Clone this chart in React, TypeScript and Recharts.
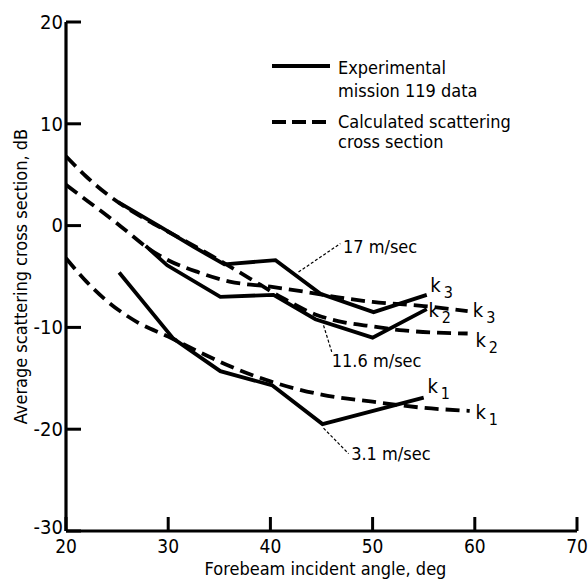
import React from 'react';
import { LineChart, Line, XAxis, YAxis, ReferenceLine, ReferenceDot, Legend } from 'recharts';

const FONT = "'Liberation Sans Narrow', 'DejaVu Sans Condensed', 'Roboto Condensed', sans-serif";

// axis ticks
const xTicks = [20, 30, 40, 50, 60, 70];
const yTicks = [-30, -20, -10, 0, 10, 20];

// experimental mission 119 data (solid)
const exp17X = [25.1, 29.2, 32.5, 35.5, 40.5, 44.9, 50.1, 55.3];
const exp17Y = [2.3, -0.1, -2.1, -3.8, -3.4, -6.7, -8.5, -6.8];
const exp116X = [27.8, 29.9, 35.1, 40.3, 44.4, 50.0, 55.3];
const exp116Y = [-2.0, -3.9, -7.0, -6.8, -9.2, -11.0, -8.2];
const exp31X = [25.2, 30.5, 35.1, 40.2, 45.1, 55.0];
const exp31Y = [-4.6, -11.1, -14.3, -15.7, -19.5, -16.9];

// calculated scattering cross section (dashed)
const calcK3X = [20, 22, 24, 26, 28, 30, 33, 36, 40, 44, 47, 50, 55, 59.3];
const calcK3Y = [4.0, 2.5, 1.0, -0.6, -2.2, -3.4, -4.6, -5.5, -6.0, -6.6, -7.1, -7.5, -7.9, -8.4];
const calcK2X = [20, 22, 24, 26, 28, 30, 32, 35, 38, 41, 44.6, 47.2, 50, 53, 59.3];
const calcK2Y = [6.8, 4.8, 3.1, 1.7, 0.5, -0.6, -1.7, -3.4, -5.2, -7.0, -8.8, -9.5, -9.9, -10.3, -10.6];
const calcK1X = [20, 22, 24, 27, 30, 33, 36, 40, 45, 50, 55, 59.5];
const calcK1Y = [-3.2, -5.5, -7.4, -9.5, -10.9, -12.4, -13.8, -15.3, -16.6, -17.3, -17.9, -18.2];

// wind speed notes: text anchor and leader ends (data coords)
const speedNotes = [
  { text: '17 m/sec', x: 47.1, y: -2.1, from: [42.75, -4.56], to: [46.84, -1.77] },
  { text: '11.6 m/sec', x: 46.0, y: -13.3, from: [45.2, -9.8], to: [46.0, -12.4] },
  { text: '3.1 m/sec', x: 47.9, y: -22.4, from: [45.2, -19.9], to: [47.65, -22.4] },
];

// curve end labels k with subscript
const kLabels = [
  { sub: '3', x: 55.65, y: -6.55 },
  { sub: '2', x: 55.46, y: -9.0 },
  { sub: '3', x: 59.8, y: -9.0 },
  { sub: '2', x: 60.06, y: -11.95 },
  { sub: '1', x: 55.36, y: -16.4 },
  { sub: '1', x: 60.06, y: -19.0 },
];

const legendLabels = [['Experimental', 'mission 119 data'], ['Calculated scattering', 'cross section']];
const xTitle = 'Forebeam incident angle, deg';
const yTitle = 'Average scattering cross section, dB';

const zip = (xs: number[], ys: number[]) => xs.map((x, i) => ({ x, y: ys[i] }));

const solid = [zip(exp17X, exp17Y), zip(exp116X, exp116Y), zip(exp31X, exp31Y)];
const dashed = [zip(calcK3X, calcK3Y), zip(calcK2X, calcK2Y), zip(calcK1X, calcK1Y)];

const YTick = ({ x, y, payload }: any) => (
  <g>
    <line x1={x} x2={x + 15} y1={y} y2={y} stroke="#000" strokeWidth={3} />
    <text
      x={x - 3}
      y={payload.value === -30 ? y - 4 : y}
      dy="0.34em"
      textAnchor="end"
      fontSize={20}
      fontFamily={FONT}
      fill="#000"
    >
      {payload.value}
    </text>
  </g>
);

const XTick = ({ x, y, payload }: any) => (
  <g>
    <line x1={x} x2={x} y1={y} y2={y - 14} stroke="#000" strokeWidth={3} />
    <text x={x} y={y + 22} textAnchor="middle" fontSize={19} fontFamily={FONT} fill="#000">
      {payload.value}
    </text>
  </g>
);

const LegendBox = () => (
  <svg width={260} height={110}>
    <line x1={4} x2={62} y1={16} y2={16} stroke="#000" strokeWidth={3.8} />
    <text x={70} y={24} fontSize={18} fontFamily={FONT}>{legendLabels[0][0]}</text>
    <text x={70} y={46.5} fontSize={18} fontFamily={FONT}>{legendLabels[0][1]}</text>
    <line x1={4} x2={58} y1={72} y2={72} stroke="#000" strokeWidth={3.8} strokeDasharray="14 6" />
    <text x={70} y={78} fontSize={18} fontFamily={FONT}>{legendLabels[1][0]}</text>
    <text x={70} y={98} fontSize={18} fontFamily={FONT}>{legendLabels[1][1]}</text>
  </svg>
);

export default function App() {
  return (
    <div style={{ position: 'absolute', left: 0, top: 0, background: '#fff' }}>
      <LineChart width={588} height={579} margin={{ top: 22, right: 11, bottom: 8, left: 6 }}>
        <XAxis
          dataKey="x"
          type="number"
          domain={[20, 70]}
          ticks={xTicks}
          allowDataOverflow
          height={40}
          tickSize={0}
          tickMargin={0}
          tickLine={false}
          axisLine={{ stroke: '#000', strokeWidth: 3.2 }}
          tick={<XTick />}
          label={(p: any) => {
            const vb = p.viewBox || {};
            const cx = vb.width ? vb.x + vb.width / 2 : 321;
            return (
              <text x={cx + 4} y={575} textAnchor="middle" fontSize={18} fontFamily={FONT} fill="#000">
                {xTitle}
              </text>
            );
          }}
        />
        <YAxis
          dataKey="y"
          type="number"
          domain={[-30, 20]}
          ticks={yTicks}
          allowDataOverflow
          width={60}
          tickSize={0}
          tickMargin={0}
          tickLine={false}
          axisLine={{ stroke: '#000', strokeWidth: 3.2 }}
          tick={<YTick />}
          label={(p: any) => {
            const vb = p.viewBox || {};
            const cy = vb.height ? vb.y + vb.height / 2 : 276;
            return (
              <text
                x={21}
                y={cy}
                transform={`rotate(-90 21 ${cy})`}
                textAnchor="middle"
                dy="0.36em"
                fontSize={18}
                fontFamily={FONT}
                fill="#000"
              >
                {yTitle}
              </text>
            );
          }}
        />
        <Legend
          layout="horizontal"
          verticalAlign="middle"
          align="center"
          content={() => <LegendBox />}
          wrapperStyle={{ position: 'absolute', left: 268, top: 50, width: 260, height: 110 }}
        />
        {solid.map((d, i) => (
          <Line
            key={'s' + i}
            data={d}
            dataKey="y"
            type="linear"
            stroke="#000"
            strokeWidth={3.8}
            dot={false}
            legendType="none"
            isAnimationActive={false}
          />
        ))}
        {dashed.map((d, i) => (
          <Line
            key={'d' + i}
            data={d}
            dataKey="y"
            type="monotone"
            stroke="#000"
            strokeWidth={3.8}
            strokeDasharray="14 7"
            dot={false}
            legendType="none"
            isAnimationActive={false}
          />
        ))}
        {speedNotes.map((n, i) => (
          <ReferenceLine
            key={'l' + i}
            segment={[{ x: n.from[0], y: n.from[1] }, { x: n.to[0], y: n.to[1] }]}
            stroke="#000"
            strokeWidth={1.2}
            strokeDasharray="3 2"
          />
        ))}
        {speedNotes.map((n, i) => (
          <ReferenceDot
            key={'n' + i}
            x={n.x}
            y={n.y}
            r={0}
            shape={(p: any) => (
              <text x={p.cx} y={p.cy} dy="0.36em" fontSize={18} fontFamily={FONT} fill="#000">
                {n.text}
              </text>
            )}
          />
        ))}
        {kLabels.map((k, i) => (
          <ReferenceDot
            key={'k' + i}
            x={k.x}
            y={k.y}
            r={0}
            shape={(p: any) => (
              <text x={p.cx} y={p.cy} fontSize={20} fontFamily={FONT} fill="#000">
                k
                <tspan dx={3} dy={6} fontSize={16}>
                  {k.sub}
                </tspan>
              </text>
            )}
          />
        ))}
      </LineChart>
    </div>
  );
}
